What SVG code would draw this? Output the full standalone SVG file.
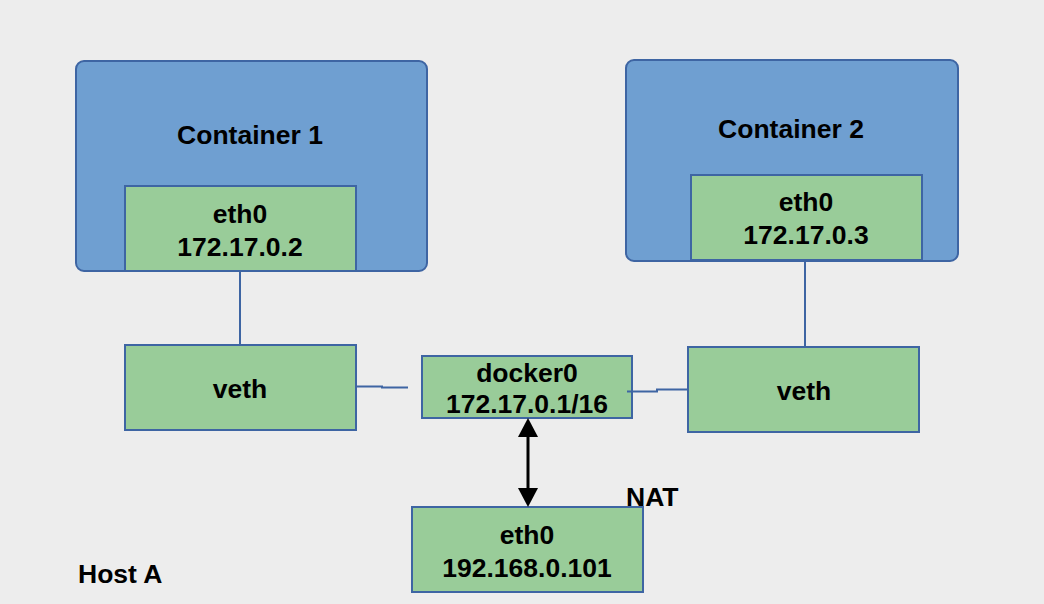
<svg xmlns="http://www.w3.org/2000/svg" width="1044" height="604" viewBox="0 0 1044 604">
<style>
.ct{fill:#6F9FD1;stroke:#3E65A3;stroke-width:2}
.gr{fill:#99CC99;stroke:#3E65A3;stroke-width:2}
.t{font-family:"Liberation Sans",Arial,sans-serif;font-weight:bold;font-size:26.5px;fill:#000;text-anchor:middle}
.tl{font-family:"Liberation Sans",Arial,sans-serif;font-weight:bold;font-size:26.5px;fill:#000}
.ln{fill:none;stroke:#3E65A3;stroke-width:2}
</style>
<rect width="1044" height="604" fill="#EDEDED"/>
<g id="container1">
<rect class="ct" x="76" y="61" width="351" height="210" rx="8"/>
<text class="t" x="250" y="144">Container 1</text>
</g>
<g id="c1eth0">
<rect class="gr" x="125" y="186" width="231" height="85"/>
<text class="t" x="240" y="223">eth0</text>
<text class="t" x="240" y="256">172.17.0.2</text>
</g>
<g id="container2">
<rect class="ct" x="626" y="60" width="332" height="201" rx="8"/>
<text class="t" x="791" y="138">Container 2</text>
</g>
<g id="c2eth0">
<rect class="gr" x="691" y="175" width="231" height="85"/>
<text class="t" x="806" y="211">eth0</text>
<text class="t" x="806" y="244">172.17.0.3</text>
</g>
<g id="veth1">
<rect class="gr" x="125" y="345" width="231" height="85"/>
<text class="t" x="240" y="398">veth</text>
</g>
<g id="veth2">
<rect class="gr" x="688" y="347" width="231" height="85"/>
<text class="t" x="804" y="400">veth</text>
</g>
<g id="docker0">
<rect class="gr" x="422" y="356" width="210" height="62"/>
<text class="t" x="527" y="382">docker0</text>
<text class="t" x="527" y="413">172.17.0.1/16</text>
</g>
<g id="hosteth0">
<rect class="gr" x="412" y="507" width="231" height="85"/>
<text class="t" x="527" y="544">eth0</text>
<text class="t" x="527" y="577">192.168.0.101</text>
</g>
<g id="labels">
<text class="tl" x="626" y="506">NAT</text>
<text class="tl" x="78" y="583">Host A</text>
</g>
<g id="connectors">
<path class="ln" d="M240,271 V345"/>
<path class="ln" d="M805,260 V347"/>
<path class="ln" d="M356,386.5 H382 V387.5 H408"/>
<path class="ln" d="M627,391.5 H657 V389.5 H688"/>
<path d="M528,437 V488" stroke="#000" stroke-width="3" fill="none"/>
<path d="M518,437 L528,418 L538,437 Z" fill="#000"/>
<path d="M518,488 L528,507 L538,488 Z" fill="#000"/>
</g>
</svg>
